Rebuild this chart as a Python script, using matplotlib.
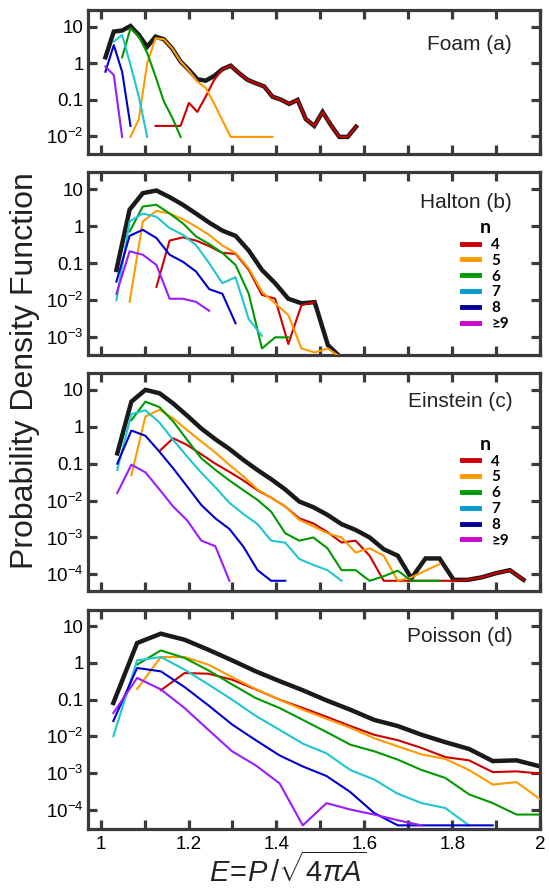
import numpy as np
import matplotlib
matplotlib.use('Agg')
import matplotlib.pyplot as plt
from matplotlib.lines import Line2D
from matplotlib.ticker import FixedLocator, FuncFormatter

plt.rcParams['font.family'] = ['Liberation Sans', 'DejaVu Sans']
plt.rcParams['mathtext.fontset'] = 'custom'
plt.rcParams['mathtext.rm'] = 'Liberation Sans'
plt.rcParams['mathtext.it'] = 'Liberation Sans:italic'
plt.rcParams['mathtext.bf'] = 'Liberation Sans:bold'

n_labels = ['4', '5', '6', '7', '8', '\u22659']
line_colors = ['#cc0000', '#ff9900', '#009900', '#1fc6d0', '#0000cc', '#9a1cff']
legend_colors = ['#cc0000', '#ff9900', '#009900', '#0099cc', '#000099', '#cc00cc']

# ---- Foam (a) ----
foam_E = [1.011, 1.030, 1.049, 1.068, 1.087, 1.106, 1.125, 1.144, 1.163, 1.182,
          1.201, 1.220, 1.239, 1.258, 1.277, 1.296, 1.315, 1.334, 1.353, 1.372,
          1.391, 1.410, 1.429, 1.448, 1.467, 1.486, 1.505, 1.524, 1.543, 1.562, 1.581]
foam_total = [1.44, 7.3, 7.8, 10.4, 5.9, 2.8, 5.3, 4.5, 2.5, 1.1, 0.65, 0.36, 0.33, 0.44,
              0.68, 0.85, 0.53, 0.35, 0.28, 0.23, 0.12, 0.10, 0.076, 0.098, 0.029,
              0.019, 0.046, 0.020, 0.0095, 0.0095, 0.018]
foam_n4 = [0.019, 0.019, 0.019, 0.019, 0.081, 0.046, 0.12, 0.34, 0.68, 0.85, 0.53, 0.35,
           0.28, 0.23, 0.12, 0.10, 0.076, 0.098, 0.029, 0.019, 0.046, 0.020, 0.0095,
           0.0095, 0.018]
foam_n5 = [0.0095, 0.029, 0.99, 4.8, 4.5, 2.5, 1.1, 0.62, 0.31, 0.21, 0.079, 0.027,
           0.0095, 0.0095, 0.0095, 0.0095, 0.0095, 0.0095]
foam_n6 = [1.44, 9.0, 5.3, 1.9, 0.43, 0.088, 0.032, 0.0095]
foam_n7 = [3.9, 5.9, 0.89, 0.12, 0.0095]
foam_n8 = [0.58, 3.1, 0.58, 0.019]
foam_n9 = [0.80, 0.47, 0.0095]
foam_start = [6, 3, 2, 1, 0, 0]

# ---- Halton (b) ----
halton_E = [1.036, 1.066, 1.096, 1.127, 1.157, 1.187, 1.217, 1.247, 1.277, 1.307,
            1.337, 1.367, 1.397, 1.427, 1.457, 1.487, 1.517, 1.547]
halton_total = [0.066, 2.8, 7.8, 9.2, 6.1, 3.8, 2.2, 1.25, 0.76, 0.55, 0.22, 0.066,
                0.029, 0.011, 0.0083, 0.0089, 6.2e-4, 2.8e-4]
halton_n4 = [0.023, 0.41, 0.5, 0.41, 0.29, 0.19, 0.18, 0.066, 0.014, 0.011, 6.6e-4,
             0.0075, 0.0089]
halton_n5 = [0.0091, 1.34, 2.6, 2.2, 1.55, 0.98, 0.58, 0.30, 0.19, 0.073, 0.017, 0.0083,
             0.004, 5e-4, 3.9e-4, 5e-4, 2.8e-4]
halton_n6 = [0.72, 3.4, 3.8, 2.2, 1.2, 0.53, 0.33, 0.19, 0.09, 0.015, 5e-4, 1.0e-3, 1.0e-3]
halton_n7 = [0.01, 1.34, 2.2, 1.8, 0.89, 0.59, 0.31, 0.1, 0.029, 0.042, 0.0031, 0.0011]
halton_n8 = [0.032, 0.55, 0.8, 0.48, 0.17, 0.11, 0.06, 0.02, 0.015, 0.0024]
halton_n9 = [0.015, 0.21, 0.17, 0.09, 0.011, 0.011, 0.0091, 0.0052]
halton_start = [3, 1, 1, 0, 0, 0]

# ---- Einstein (c) ----
einstein_E = [1.038, 1.070, 1.102, 1.134, 1.165, 1.197, 1.229, 1.261, 1.293, 1.325,
              1.357, 1.388, 1.420, 1.452, 1.484, 1.516, 1.548, 1.580, 1.612, 1.644,
              1.676, 1.707, 1.739, 1.771, 1.803, 1.835, 1.867, 1.899, 1.931, 1.962]
einstein_total = [0.19, 4.8, 10, 8.1, 4.3, 2.0, 0.9, 0.46, 0.25, 0.126, 0.067, 0.038,
                  0.02, 0.0094, 0.0066, 0.0041, 0.0023, 0.0016, 0.001, 4.8e-4, 3.2e-4,
                  7.8e-5, 2.7e-4, 2.7e-4, 7.1e-5, 7.1e-5, 8.3e-5, 1.07e-4, 1.3e-4, 7.1e-5]
einstein_n4 = [0.22, 0.49, 0.32, 0.18, 0.10, 0.06, 0.035, 0.019, 0.012, 0.0069, 0.0033,
               0.0024, 0.0014, 7.3e-4, 8.2e-4, 3.2e-4, 6.7e-5, 6.7e-5, 6.7e-5, 6.7e-5,
               6.7e-5, 6.7e-5, 7.1e-5, 8.3e-5, 1.07e-4, 1.3e-4, 7.1e-5]
einstein_n5 = [0.049, 1.9, 2.9, 1.7, 0.81, 0.4, 0.2, 0.093, 0.045, 0.020, 0.012, 0.0069,
               0.003, 0.002, 0.0013, 0.001, 3.9e-4, 5.1e-4, 3.2e-4, 6.7e-5, 8.3e-5,
               1.26e-4, 1.9e-4]
einstein_n6 = [1.5, 4.8, 3.4, 1.4, 0.44, 0.14, 0.068, 0.035, 0.019, 0.0104, 0.005, 0.0013,
               8.2e-4, 0.001, 5.1e-4, 1.3e-4, 1.3e-4, 6.7e-5, 8.9e-5, 1.26e-4, 6.7e-5,
               6.7e-5, 6.7e-5]
einstein_n7 = [0.068, 2.2, 2.8, 1.3, 0.44, 0.155, 0.057, 0.023, 0.0087, 0.0043, 0.0023,
               8.2e-4, 7.2e-4, 2.6e-4, 1.8e-4, 1.3e-4, 6.7e-5]
einstein_n8 = [0.10, 0.79, 0.57, 0.21, 0.075, 0.024, 0.0076, 0.0033, 0.0017, 5.6e-4,
               1.3e-4, 6.7e-5, 6.7e-5]
einstein_n9 = [0.016, 0.094, 0.058, 0.020, 0.0069, 0.0029, 8.2e-4, 5.8e-4, 6.7e-5]
einstein_start = [3, 1, 1, 0, 0, 0]

# ---- Poisson (d) ----
poisson_E = [1.029, 1.083, 1.137, 1.191, 1.245, 1.299, 1.353, 1.407, 1.460, 1.514,
             1.568, 1.622, 1.676, 1.730, 1.784, 1.838, 1.892, 1.946, 2.000]
poisson_total = [0.081, 3.5, 6.3, 4.3, 2.3, 1.18, 0.59, 0.32, 0.18, 0.095, 0.053, 0.028,
                 0.019, 0.011, 0.0069, 0.0045, 0.0021, 0.0022, 0.0015]
poisson_n4 = [0.18, 0.53, 0.51, 0.35, 0.19, 0.1, 0.059, 0.034, 0.019, 0.011, 0.0078,
              0.0048, 0.0027, 0.0022, 0.00105, 0.0011, 9.6e-4]
poisson_n5 = [0.195, 1.45, 1.45, 0.9, 0.41, 0.195, 0.1, 0.053, 0.03, 0.017, 0.0089,
              0.0053, 0.0032, 0.0024, 0.0012, 4.8e-4, 5.6e-4, 1.9e-4]
poisson_n6 = [0.9, 2.2, 1.37, 0.63, 0.26, 0.11, 0.059, 0.028, 0.013, 0.0059, 0.0039,
              0.0023, 0.0012, 7.3e-4, 2.6e-4, 1.5e-4, 7.3e-5, 7.3e-5]
poisson_n7 = [0.01, 1.18, 1.45, 0.66, 0.26, 0.1, 0.036, 0.015, 0.0063, 0.0034, 0.0012,
              6.6e-4, 2.7e-4, 1.5e-4, 1.1e-4, 3.7e-5]
poisson_n8 = [0.026, 0.73, 0.59, 0.22, 0.07, 0.021, 0.0078, 0.003, 0.0015, 8.2e-4, 3e-4,
              8.1e-5, 3.7e-5, 3.7e-5, 3.7e-5, 3.7e-5, 3.7e-5]
poisson_n9 = [0.043, 0.39, 0.19, 0.059, 0.015, 0.0039, 0.0016, 5.2e-4, 3.7e-5, 1.5e-4,
              1.0e-4, 7.3e-5, 5.1e-5, 3.7e-5]
poisson_start = [2, 1, 1, 0, 0, 0]

panels = [
    ('Foam (a)', foam_E, foam_total,
     [foam_n4, foam_n5, foam_n6, foam_n7, foam_n8, foam_n9], foam_start),
    ('Halton (b)', halton_E, halton_total,
     [halton_n4, halton_n5, halton_n6, halton_n7, halton_n8, halton_n9], halton_start),
    ('Einstein (c)', einstein_E, einstein_total,
     [einstein_n4, einstein_n5, einstein_n6, einstein_n7, einstein_n8, einstein_n9],
     einstein_start),
    ('Poisson (d)', poisson_E, poisson_total,
     [poisson_n4, poisson_n5, poisson_n6, poisson_n7, poisson_n8, poisson_n9],
     poisson_start),
]

# axes boxes in figure fraction: left, bottom, width, height
boxes = [(0.160, 0.827, 0.824, 0.162),
         (0.160, 0.601, 0.824, 0.206),
         (0.160, 0.336, 0.824, 0.245),
         (0.160, 0.069, 0.824, 0.246)]
ylims = [(10**-2.49, 10**1.46), (10**-3.48, 10**1.47),
         (10**-4.45, 10**1.46), (10**-4.52, 10**1.455)]
title_y = [0.757, 0.83, 0.867, 0.877]
legend_y = [None, 0.742, 0.712, None]

ylab = {10.0: '10', 1.0: '1', 0.1: '0.1', 1e-2: '$10^{-2}$', 1e-3: '$10^{-3}$',
        1e-4: '$10^{-4}$'}
frame = '#3a3a3a'

fig = plt.figure(figsize=(5.49, 8.90), dpi=100)
for i, (name, E, total, series, starts) in enumerate(panels):
    ax = fig.add_axes(boxes[i])
    ax.plot(E, total, color='#1a1a1a', lw=3.2, solid_joinstyle='miter', zorder=2)
    for vals, s0, c in zip(series, starts, line_colors):
        ax.plot(E[s0:s0 + len(vals)], vals, color=c, lw=1.5, zorder=3)
    ax.set_yscale('log')
    ax.set_ylim(*ylims[i])
    ax.set_xlim(0.971, 2.0)
    ax.yaxis.set_major_locator(FixedLocator([1e-4, 1e-3, 1e-2, 0.1, 1, 10]))
    ax.yaxis.set_minor_locator(FixedLocator([]))
    ax.yaxis.set_major_formatter(FuncFormatter(lambda v, p: ylab.get(round(v, 6), '')))
    ax.set_xticks(np.round(np.arange(1.0, 2.01, 0.1), 1))
    if i == 3:
        ax.set_xticklabels(['1', '', '1.2', '', '1.4', '', '1.6', '', '1.8', '', '2'])
    else:
        ax.set_xticklabels([])
    for sp in ax.spines.values():
        sp.set_linewidth(2.3)
        sp.set_color(frame)
    ax.tick_params(which='both', direction='in', length=6.5, width=2.3, color=frame,
                   top=True, right=True, labelsize=13.5, pad=3)
    ax.tick_params(axis='x', pad=5)
    ax.text(0.938, title_y[i], name, transform=ax.transAxes, ha='right', va='center',
            fontsize=15, color='#222222')
    if legend_y[i] is not None:
        handles = [Line2D([], [], color=c, lw=3.5) for c in legend_colors]
        leg = ax.legend(handles, n_labels, title='n', loc='upper left',
                        bbox_to_anchor=(0.828, legend_y[i]), frameon=False,
                        prop={'family': ['Lato', 'DejaVu Sans'], 'weight': 'bold',
                              'size': 11},
                        handlelength=1.1, handletextpad=0.8, labelspacing=0.12,
                        borderpad=0, borderaxespad=0)
        leg.get_title().set_fontweight('bold')
        leg.get_title().set_fontsize(14)
        leg.get_title().set_family(['Lato', 'DejaVu Sans'])

fig.text(0.046, 0.584, 'Probability Density Function', rotation=90, ha='center',
         va='center', fontsize=23, color='#222222')
fig.text(0.525, 0.022, r'$E\!=\!P\,/\sqrt{4\pi A}$', ha='center', va='center',
         fontsize=21, color='#222222')

fig.savefig('out.png', dpi=100)
